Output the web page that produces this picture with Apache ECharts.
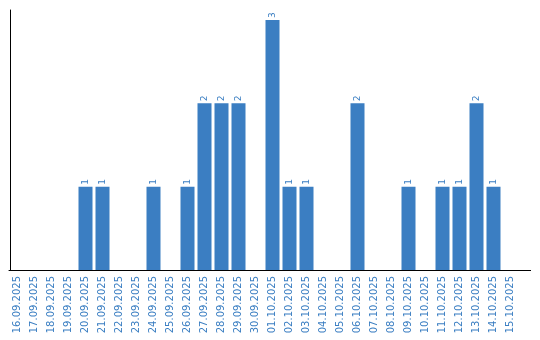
<!DOCTYPE html>
<html><head><meta charset="utf-8">
<script src="https://cdn.jsdelivr.net/npm/echarts@6/dist/echarts.min.js"></script>
<style>html,body{margin:0;padding:0;background:#fff}#c{width:540px;height:340px}</style>
</head><body><div id="c"></div>
<script>
const categories = ["16.09.2025","17.09.2025","18.09.2025","19.09.2025","20.09.2025","21.09.2025","22.09.2025","23.09.2025","24.09.2025","25.09.2025","26.09.2025","27.09.2025","28.09.2025","29.09.2025","30.09.2025","01.10.2025","02.10.2025","03.10.2025","04.10.2025","05.10.2025","06.10.2025","07.10.2025","08.10.2025","09.10.2025","10.10.2025","11.10.2025","12.10.2025","13.10.2025","14.10.2025","15.10.2025"];
const values = [0,0,0,0,1,1,0,0,1,0,1,2,2,2,0,3,1,1,0,0,2,0,0,1,0,1,1,2,1,0];
const chart = echarts.init(document.getElementById('c'), null, {renderer:'canvas'});
chart.setOption({
  animation:false,
  grid:{left:9,width:510,top:10,bottom:70,containLabel:false},
  graphic:[{type:'line',shape:{x1:518,y1:270.5,x2:531,y2:270.5},style:{stroke:'#000',lineWidth:1}}],
  xAxis:{type:'category',data:categories,
    axisLine:{lineStyle:{color:'#000',width:1}},axisTick:{show:false},
    axisLabel:{rotate:90,interval:0,color:'#3a7ec2',fontFamily:'DejaVu Sans',fontSize:10,margin:6}},
  yAxis:{type:'value',min:0,max:3.12,offset:-1,axisLine:{show:true,lineStyle:{color:'#000',width:1}},
    axisLabel:{show:false},axisTick:{show:false},splitLine:{show:false}},
  series:[{type:'bar',data:values.map(v=>({value:v,label:{show:v>0}})),barWidth:14,
    itemStyle:{color:'#3b7ec2'},
    label:{show:true,position:'top',rotate:90,align:'left',verticalAlign:'middle',distance:2,
      color:'#3a7ec2',fontFamily:'DejaVu Sans',fontSize:9}}]
});
</script></body></html>
